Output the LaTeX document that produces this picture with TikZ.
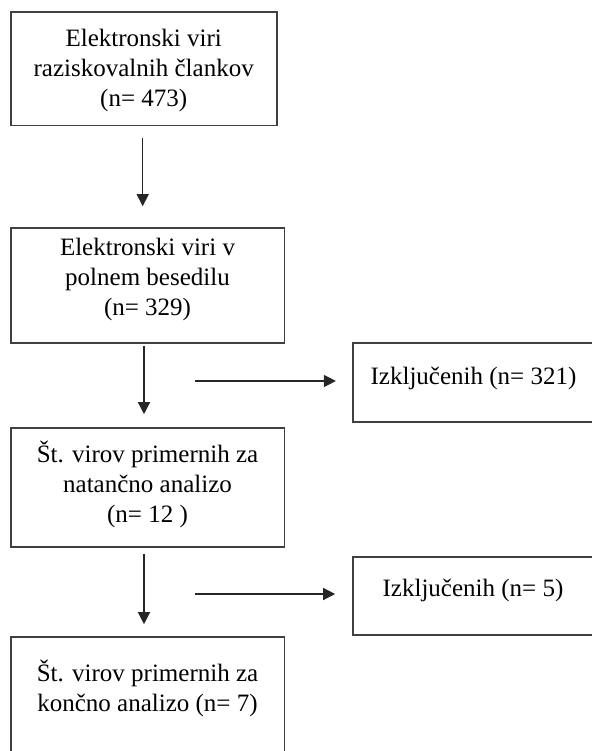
\documentclass[tikz,border=0pt]{standalone}
\usepackage{fontspec}
\setmainfont{Liberation Serif}
\usetikzlibrary{arrows.meta,calc}
\begin{document}
\begin{tikzpicture}[x=1pt,y=-1pt,
  box/.style={draw=black!75, line width=1.6pt, inner sep=0pt},
  txt/.style={inner sep=0pt, align=center, font=\fontsize{25}{30}\selectfont},
  arr/.style={draw=black!85, line width=1.3pt, -{Triangle[length=12pt,width=12pt]}}]
\useasboundingbox (0,0) rectangle (591,751);
% boxes
\node[box, minimum width=266pt, minimum height=113.4pt] (b1) at (143.7,69) {};
\node[box, minimum width=273.6pt, minimum height=115pt] (b2) at (147.5,285.5) {};
\node[box, minimum width=273.6pt, minimum height=119pt] (b3) at (147.5,487.5) {};
\node[box, minimum width=273.6pt, minimum height=133pt] (b4) at (147.5,703.5) {};
\node[box, minimum width=242.3pt, minimum height=79pt] (x1) at (473.85,382.5) {};
\node[box, minimum width=242.3pt, minimum height=78pt] (x2) at (473.85,596) {};
% texts
\node[txt] (t1) at (143.7,70) {Elektronski viri\\raziskovalnih člankov\\(n= 473)};
\node[txt] (t2) at (147.5,279) {Elektronski viri v\\polnem besedilu\\(n= 329)};
\node[txt] (t3) at (147.5,484) {Št. virov primernih za\\natančno analizo\\(n= 12 )};
\node[txt] (t4) at (147.5,688) {Št. virov primernih za\\končno analizo (n= 7)};
\node[txt] (tx1) at (473.5,378) {Izključenih (n= 321)};
\node[txt] (tx2) at (473,590) {Izključenih (n= 5)};
% connectors
\draw[arr] ($(b1.south)+(-1,11.3)$) -- ($(b2.north)+(-4.8,-21)$);
\draw[arr] ($(b2.south)+(-3.5,2)$) -- ($(b3.north)+(-3.5,-13)$);
\draw[arr] ($(b3.south)+(-3.5,6)$) -- ($(b4.north)+(-3.5,-12)$);
\draw[arr] ($(x1.west)+(-156.7,-1.5)$) -- ($(x1.west)+(-16,-1.5)$);
\draw[arr] ($(x2.west)+(-156.7,-2)$) -- ($(x2.west)+(-16.7,-2)$);
\end{tikzpicture}
\end{document}
